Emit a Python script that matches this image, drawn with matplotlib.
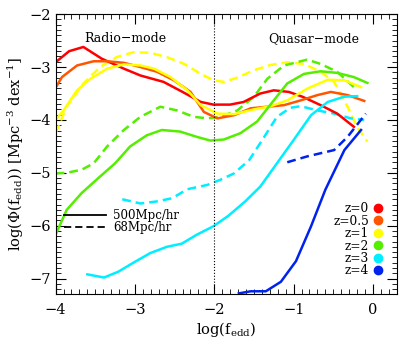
import numpy as np
import matplotlib
matplotlib.use("Agg")
import matplotlib.pyplot as plt
from matplotlib.lines import Line2D
from matplotlib.ticker import MultipleLocator

plt.rcParams['font.family'] = ['DejaVu Serif']
plt.rcParams['mathtext.fontset'] = 'dejavuserif'

# ---- data (log f_edd, log Phi) ----
# 500 Mpc/h box (solid)
z0_x = [-4.00, -3.83, -3.65, -3.42, -3.14, -2.93, -2.64, -2.40, -2.17, -2.01, -1.80, -1.63, -1.42, -1.25, -1.06, -0.89, -0.66, -0.45, -0.24]
z0_y = [-2.91, -2.70, -2.62, -2.84, -3.03, -3.16, -3.28, -3.47, -3.66, -3.71, -3.71, -3.66, -3.50, -3.44, -3.47, -3.56, -3.72, -3.88, -4.13]

z05_x = [-4.00, -3.92, -3.73, -3.52, -3.35, -3.14, -2.93, -2.72, -2.51, -2.30, -2.13, -1.96, -1.75, -1.54, -1.33, -1.12, -0.91, -0.70, -0.53, -0.32, -0.11]
z05_y = [-3.39, -3.19, -2.97, -2.89, -2.89, -2.92, -3.00, -3.09, -3.25, -3.47, -3.85, -3.97, -3.91, -3.78, -3.75, -3.72, -3.63, -3.53, -3.47, -3.53, -3.64]

z1_x = [-4.00, -3.90, -3.73, -3.56, -3.35, -3.14, -2.93, -2.76, -2.55, -2.34, -2.17, -1.96, -1.75, -1.50, -1.29, -1.08, -0.83, -0.57, -0.36, -0.15]
z1_y = [-4.00, -3.82, -3.44, -3.22, -3.03, -2.95, -2.97, -3.03, -3.19, -3.44, -3.72, -3.88, -3.89, -3.80, -3.74, -3.63, -3.41, -3.24, -3.25, -3.38]

z2_x = [-4.00, -3.86, -3.67, -3.44, -3.25, -3.06, -2.85, -2.66, -2.43, -2.22, -2.05, -1.88, -1.67, -1.46, -1.25, -1.08, -0.87, -0.66, -0.45, -0.24, -0.07]
z2_y = [-6.17, -5.70, -5.38, -5.07, -4.82, -4.50, -4.29, -4.19, -4.22, -4.32, -4.39, -4.37, -4.25, -4.03, -3.63, -3.31, -3.13, -3.08, -3.11, -3.19, -3.30]

z3_x = [-3.60, -3.39, -3.21, -3.02, -2.81, -2.60, -2.41, -2.22, -2.01, -1.82, -1.61, -1.42, -1.21, -1.00, -0.78, -0.57, -0.36, -0.20]
z3_y = [-6.92, -6.98, -6.87, -6.70, -6.52, -6.40, -6.34, -6.17, -6.01, -5.81, -5.54, -5.26, -4.82, -4.38, -3.91, -3.66, -3.56, -3.55]

z4_x = [-1.69, -1.54, -1.35, -1.16, -0.97, -0.78, -0.60, -0.36, -0.15]
z4_y = [-7.28, -7.24, -7.24, -7.06, -6.67, -6.01, -5.32, -4.57, -4.19]

# 68 Mpc/h box (dashed)
z1d_x = [-4.00, -3.86, -3.65, -3.44, -3.23, -3.02, -2.81, -2.60, -2.38, -2.17, -2.01, -1.88, -1.71, -1.50, -1.29, -1.08, -0.87, -0.66, -0.49, -0.32, -0.20, -0.07]
z1d_y = [-4.25, -3.75, -3.31, -3.00, -2.81, -2.72, -2.73, -2.81, -2.94, -3.13, -3.25, -3.28, -3.20, -3.06, -2.96, -2.91, -2.94, -3.09, -3.28, -3.75, -4.13, -4.41]

z2d_x = [-4.00, -3.86, -3.67, -3.52, -3.35, -3.14, -2.93, -2.68, -2.47, -2.26, -2.09, -1.92, -1.71, -1.50, -1.33, -1.12, -0.91, -0.83, -0.66, -0.45, -0.24]
z2d_y = [-5.01, -5.00, -4.94, -4.82, -4.50, -4.19, -3.94, -3.75, -3.82, -3.94, -3.97, -3.94, -3.82, -3.56, -3.22, -2.97, -2.89, -2.86, -2.94, -3.09, -3.38]

z3d_x = [-3.16, -2.93, -2.72, -2.53, -2.34, -2.09, -1.92, -1.75, -1.56, -1.37, -1.21, -1.04, -0.91, -0.70, -0.49, -0.28, -0.11]
z3d_y = [-5.50, -5.58, -5.54, -5.48, -5.31, -5.23, -5.13, -5.01, -4.76, -4.32, -3.94, -3.77, -3.74, -3.82, -3.88, -3.97, -4.00]

z4d_x = [-1.08, -0.83, -0.49, -0.32, -0.09]
z4d_y = [-4.80, -4.69, -4.57, -4.32, -3.88]

z_labels = ['z=0', 'z=0.5', 'z=1', 'z=2', 'z=3', 'z=4']
z_colors = ['#ff0000', '#ff5500', '#ffff00', '#55ee00', '#00eeff', '#0022ee']

solid = [(z0_x, z0_y, 0), (z05_x, z05_y, 1), (z1_x, z1_y, 2),
         (z2_x, z2_y, 3), (z3_x, z3_y, 4), (z4_x, z4_y, 5)]
dashed = [(z1d_x, z1d_y, 2), (z2d_x, z2d_y, 3), (z3d_x, z3d_y, 4), (z4d_x, z4d_y, 5)]

DASH = (0, (3.5, 2.0))

fig = plt.figure(figsize=(4.15, 3.46), dpi=100)
ax = fig.add_axes([0.134, 0.149, 0.822, 0.81])

for x, y, c in dashed:
    ax.plot(x, y, color=z_colors[c], lw=1.8, ls=DASH)
for x, y, c in solid:
    ax.plot(x, y, color=z_colors[c], lw=1.8)

ax.axvline(-2, color='black', lw=0.8, ls=':')

ax.set_xlim(-4, 0.3)
ax.set_ylim(-7.3, -2)
ax.xaxis.set_major_locator(MultipleLocator(1))
ax.xaxis.set_minor_locator(MultipleLocator(0.1))
ax.yaxis.set_major_locator(MultipleLocator(1))
ax.yaxis.set_minor_locator(MultipleLocator(0.1))
ax.tick_params(which='both', direction='in', top=True, right=True, labelsize=10.5)
ax.tick_params(which='major', length=7, width=0.8)
ax.tick_params(which='minor', length=3.5, width=0.6)
for s in ax.spines.values():
    s.set_linewidth(0.8)
ax.xaxis.set_tick_params(pad=6)

ax.set_xlabel(r'$\log(\mathrm{f_{edd}})$', fontsize=10.5, labelpad=2)
ax.set_ylabel(r'$\log(\Phi(\mathrm{f_{edd}}))\ [\mathrm{Mpc^{-3}\ dex^{-1}}]$', fontsize=10.5, labelpad=2)

ax.text(-3.12, -2.46, 'Radio\u2212mode', ha='center', va='center', fontsize=9)
ax.text(-0.75, -2.46, 'Quasar\u2212mode', ha='center', va='center', fontsize=9)

box_handles = [Line2D([], [], color='black', lw=1.3),
               Line2D([], [], color='black', lw=1.3, ls=(0, (4, 2.2)))]
leg1 = ax.legend(box_handles, ['500Mpc/hr', '68Mpc/hr'], loc='upper left',
                 bbox_to_anchor=(0.0, 0.335), frameon=False, fontsize=8.5,
                 handlelength=3.6, handletextpad=0.6, labelspacing=-0.1,
                 borderaxespad=0.3)
ax.add_artist(leg1)

z_handles = [Line2D([], [], ls='none', marker='o', ms=6, color=c) for c in z_colors]
ax.legend(z_handles, z_labels, loc='lower right', bbox_to_anchor=(0.98, 0.035),
          frameon=False, fontsize=8.8, markerfirst=False, handlelength=0.8,
          handletextpad=0.3, labelspacing=-0.05, borderaxespad=0.2,
          alignment='right')

fig.savefig('out.png', dpi=100)
